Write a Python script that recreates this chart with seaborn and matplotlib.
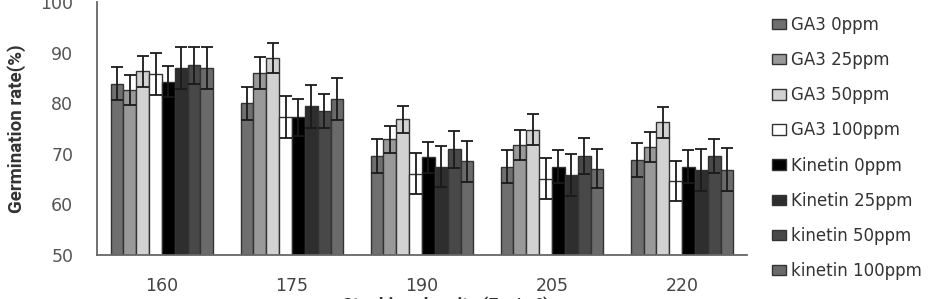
import numpy as np
import pandas as pd
import matplotlib
matplotlib.use("Agg")
import matplotlib.pyplot as plt
import seaborn as sns
from matplotlib.patches import Patch

densities = ["160", "175", "190", "205", "220"]
treatments = ["GA3 0ppm", "GA3 25ppm", "GA3 50ppm", "GA3 100ppm",
              "Kinetin 0ppm", "Kinetin 25ppm", "kinetin 50ppm", "kinetin 100ppm"]
colors = ["#6f6f6f", "#999999", "#d2d2d2", "#ffffff",
          "#000000", "#2e2e2e", "#484848", "#6a6a6a"]

ga3_0 = [83.9, 80.0, 69.6, 67.5, 68.8]
ga3_25 = [82.6, 86.0, 72.9, 71.8, 71.4]
ga3_50 = [86.3, 89.0, 76.8, 74.8, 76.2]
ga3_100 = [85.8, 77.3, 66.1, 65.1, 64.6]
kin_0 = [84.3, 77.2, 69.3, 67.5, 67.5]
kin_25 = [87.0, 79.4, 67.5, 65.8, 66.8]
kin_50 = [87.5, 78.5, 70.9, 69.6, 69.6]
kin_100 = [87.0, 80.8, 68.5, 67.1, 66.9]

err_ga3_0 = [3.3, 3.3, 3.3, 3.3, 3.3]
err_ga3_25 = [2.9, 3.1, 2.7, 3.0, 3.0]
err_ga3_50 = [3.0, 3.0, 2.6, 3.0, 3.0]
err_ga3_100 = [4.1, 4.1, 4.1, 4.0, 4.0]
err_kin_0 = [3.1, 3.6, 3.0, 3.3, 3.3]
err_kin_25 = [4.2, 4.3, 4.0, 4.2, 4.2]
err_kin_50 = [3.7, 3.3, 3.6, 3.6, 3.3]
err_kin_100 = [4.2, 4.1, 4.1, 3.9, 4.2]

means = [ga3_0, ga3_25, ga3_50, ga3_100, kin_0, kin_25, kin_50, kin_100]
errs = [err_ga3_0, err_ga3_25, err_ga3_50, err_ga3_100,
        err_kin_0, err_kin_25, err_kin_50, err_kin_100]

rows = []
for t, m, e in zip(treatments, means, errs):
    for d, v, ev in zip(densities, m, e):
        rows.append({"density": d, "treatment": t, "rate": v, "err": ev})
df = pd.DataFrame(rows)

sns.set_style("white")
plt.rcParams["font.family"] = ["DejaVu Sans"]

fig = plt.figure(figsize=(9.48, 2.99), dpi=100)
ax = fig.add_axes([0.1023, 0.147, 0.6857, 0.846])

sns.barplot(data=df, x="density", y="rate", hue="treatment",
            order=densities, hue_order=treatments,
            palette=colors, width=0.79, gap=0, errorbar=None,
            edgecolor="#333333", linewidth=1.0, ax=ax, legend=False)

# error bars at the bar centres given by seaborn
bar_containers = list(ax.containers)
for t_idx, container in enumerate(bar_containers):
    xs = [p.get_x() + p.get_width() / 2 for p in container.patches]
    ys = [p.get_y() + p.get_height() for p in container.patches]
    ax.errorbar(xs, ys, yerr=errs[t_idx], fmt="none", ecolor="#1a1a1a",
                elinewidth=1.3, capsize=4.0, capthick=1.3, zorder=5)

ax.set_ylim(50, 100)
ax.set_xlim(-0.5, 4.5)
ax.set_yticks([50, 60, 70, 80, 90, 100])
ax.set_xticks(range(5))
ax.set_xticklabels(densities)
ax.set_xticks(np.arange(-0.5, 5.0, 1.0), minor=True)
ax.tick_params(axis="x", which="major", length=0, pad=16, labelsize=12.5, labelcolor="#444444")
ax.tick_params(axis="x", which="minor", length=5, width=1.2, color="#555555", direction="out")
ax.tick_params(axis="y", length=6, width=1.2, color="#555555", direction="out",
               labelsize=12.5, labelcolor="#555555", pad=11)
for s in ["top", "right"]:
    ax.spines[s].set_visible(False)
for s in ["left", "bottom"]:
    ax.spines[s].set_color("#666666")
    ax.spines[s].set_linewidth(1.3)

ax.set_xlabel("")
ax.set_ylabel("Germination rate(%)", fontsize=13.5, fontweight="bold",
              family=["Roboto", "DejaVu Sans"], color="#333333", labelpad=10)

fig.text(0.47, 1 - 296.5 / 299, "Stocking density (Fry/m\u00b3)", ha="center", va="top",
         fontsize=13, fontweight="bold", color="#333333", family=["Roboto", "DejaVu Sans"])

handles = [Patch(facecolor=c, edgecolor="#333333", linewidth=1.0) for c in colors]
fig.legend(handles, treatments, loc="upper left", bbox_to_anchor=(0.799, 0.997),
           frameon=False, fontsize=12, labelspacing=1.03, handlelength=0.8,
           handleheight=0.6, handletextpad=0.3, labelcolor="#333333")

fig.savefig("out.png", dpi=100)
